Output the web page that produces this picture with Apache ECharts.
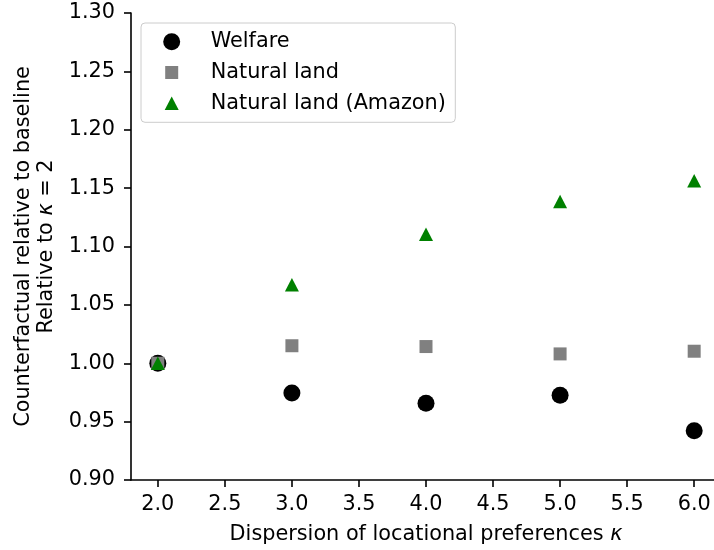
<!DOCTYPE html>
<html>
<head>
<meta charset="utf-8">
<script src="https://cdn.jsdelivr.net/npm/echarts@6/dist/echarts.min.js"></script>
<style>
  html, body { margin: 0; padding: 0; background: #fff; overflow: hidden; }
  #wrap { position: relative; width: 714px; height: 550px; overflow: hidden; }
  #chart { position: absolute; left: 0; top: 0; width: 722px; height: 550px; }
</style>
</head>
<body>
<div id="wrap"><div id="chart"></div></div>
<script>
// Dispersion of locational preferences (kappa) and outcomes relative to kappa = 2
const kappa = [2.0, 3.0, 4.0, 5.0, 6.0];
const welfare = [1.000, 0.9746, 0.9658, 0.9726, 0.9421];
const naturalLand = [1.000, 1.0150, 1.0143, 1.0080, 1.0103];
const naturalLandAmazon = [1.000, 1.0673, 1.1104, 1.1385, 1.1564];

const xTicks = [2.0, 2.5, 3.0, 3.5, 4.0, 4.5, 5.0, 5.5, 6.0];
const yTicks = [0.90, 0.95, 1.00, 1.05, 1.10, 1.15, 1.20, 1.25, 1.30];

const FONT = 'DejaVu Sans';
const FS = 20.8;

const pairs = (xs, ys) => xs.map((x, i) => [x, ys[i]]);

const chart = echarts.init(document.getElementById('chart'), null, { renderer: 'canvas' });

const lineStyle = { color: '#000', width: 1.6 };

chart.setOption({
  animation: false,
  backgroundColor: '#fff',
  textStyle: { fontFamily: FONT },
  // plot area runs a little past the right edge of the visible page
  grid: { left: 131, right: 1, top: 13, bottom: 67, containLabel: false },
  legend: {
    orient: 'vertical',
    left: 141,
    top: 23,
    padding: [8.3, 9.5, 8.6, 22.2],
    itemGap: 9.7,
    itemWidth: 17,
    itemHeight: 17,
    borderColor: '#cccccc',
    borderWidth: 1,
    borderRadius: 4,
    backgroundColor: '#fff',
    textStyle: { fontFamily: FONT, fontSize: FS, color: '#000', padding: [0, 0, 0, 25.5] },
    data: [
      { name: 'Welfare', icon: 'circle' },
      { name: 'Natural land', icon: 'path://M0 0M17 17M2 2h13v13h-13z' },
      { name: 'Natural land (Amazon)', icon: 'path://M0 0M17 17M8.5 1.75L15.5 15.25L1.5 15.25Z' }
    ]
  },
  xAxis: {
    type: 'value',
    min: 1.8,
    max: 6.2,
    name: 'Dispersion of locational preferences {i|κ}',
    nameLocation: 'middle',
    nameGap: 44,
    nameTextStyle: {
      fontFamily: FONT, fontSize: FS, color: '#000',
      rich: { i: { fontFamily: FONT, fontSize: FS, fontStyle: 'italic', color: '#000' } }
    },
    axisLine: { show: true, onZero: false, lineStyle: lineStyle },
    axisTick: { show: true, inside: false, length: 7, customValues: xTicks, lineStyle: lineStyle },
    splitLine: { show: false },
    axisLabel: {
      customValues: xTicks,
      margin: 14,
      fontFamily: FONT, fontSize: FS, color: '#000',
      formatter: v => v.toFixed(1)
    }
  },
  yAxis: {
    type: 'value',
    min: 0.90,
    max: 1.30,
    name: 'Counterfactual relative to baseline\nRelative to {i|κ} = 2',
    nameLocation: 'middle',
    nameRotate: 90,
    nameGap: 68,
    nameTextStyle: {
      fontFamily: FONT, fontSize: FS, color: '#000', lineHeight: 23, align: 'center',
      rich: { i: { fontFamily: FONT, fontSize: FS, fontStyle: 'italic', color: '#000', lineHeight: 23 } }
    },
    axisLine: { show: true, onZero: false, lineStyle: lineStyle },
    axisTick: { show: true, inside: false, length: 7, customValues: yTicks, lineStyle: lineStyle },
    splitLine: { show: false },
    axisLabel: {
      customValues: yTicks,
      margin: 16,
      fontFamily: FONT, fontSize: FS, color: '#000',
      formatter: v => v.toFixed(2)
    }
  },
  series: [
    {
      name: 'Welfare',
      type: 'scatter',
      symbol: 'circle',
      symbolSize: 17,
      itemStyle: { color: '#000000', opacity: 1 },
      data: pairs(kappa, welfare),
      z: 2
    },
    {
      name: 'Natural land',
      type: 'scatter',
      symbol: 'rect',
      symbolSize: 13,
      itemStyle: { color: '#808080', opacity: 1 },
      data: pairs(kappa, naturalLand),
      z: 3
    },
    {
      name: 'Natural land (Amazon)',
      type: 'scatter',
      symbol: 'triangle',
      symbolSize: [14, 13.5],
      itemStyle: { color: '#008000', opacity: 1 },
      data: pairs(kappa, naturalLandAmazon),
      z: 4
    }
  ]
});
</script>
</body>
</html>
